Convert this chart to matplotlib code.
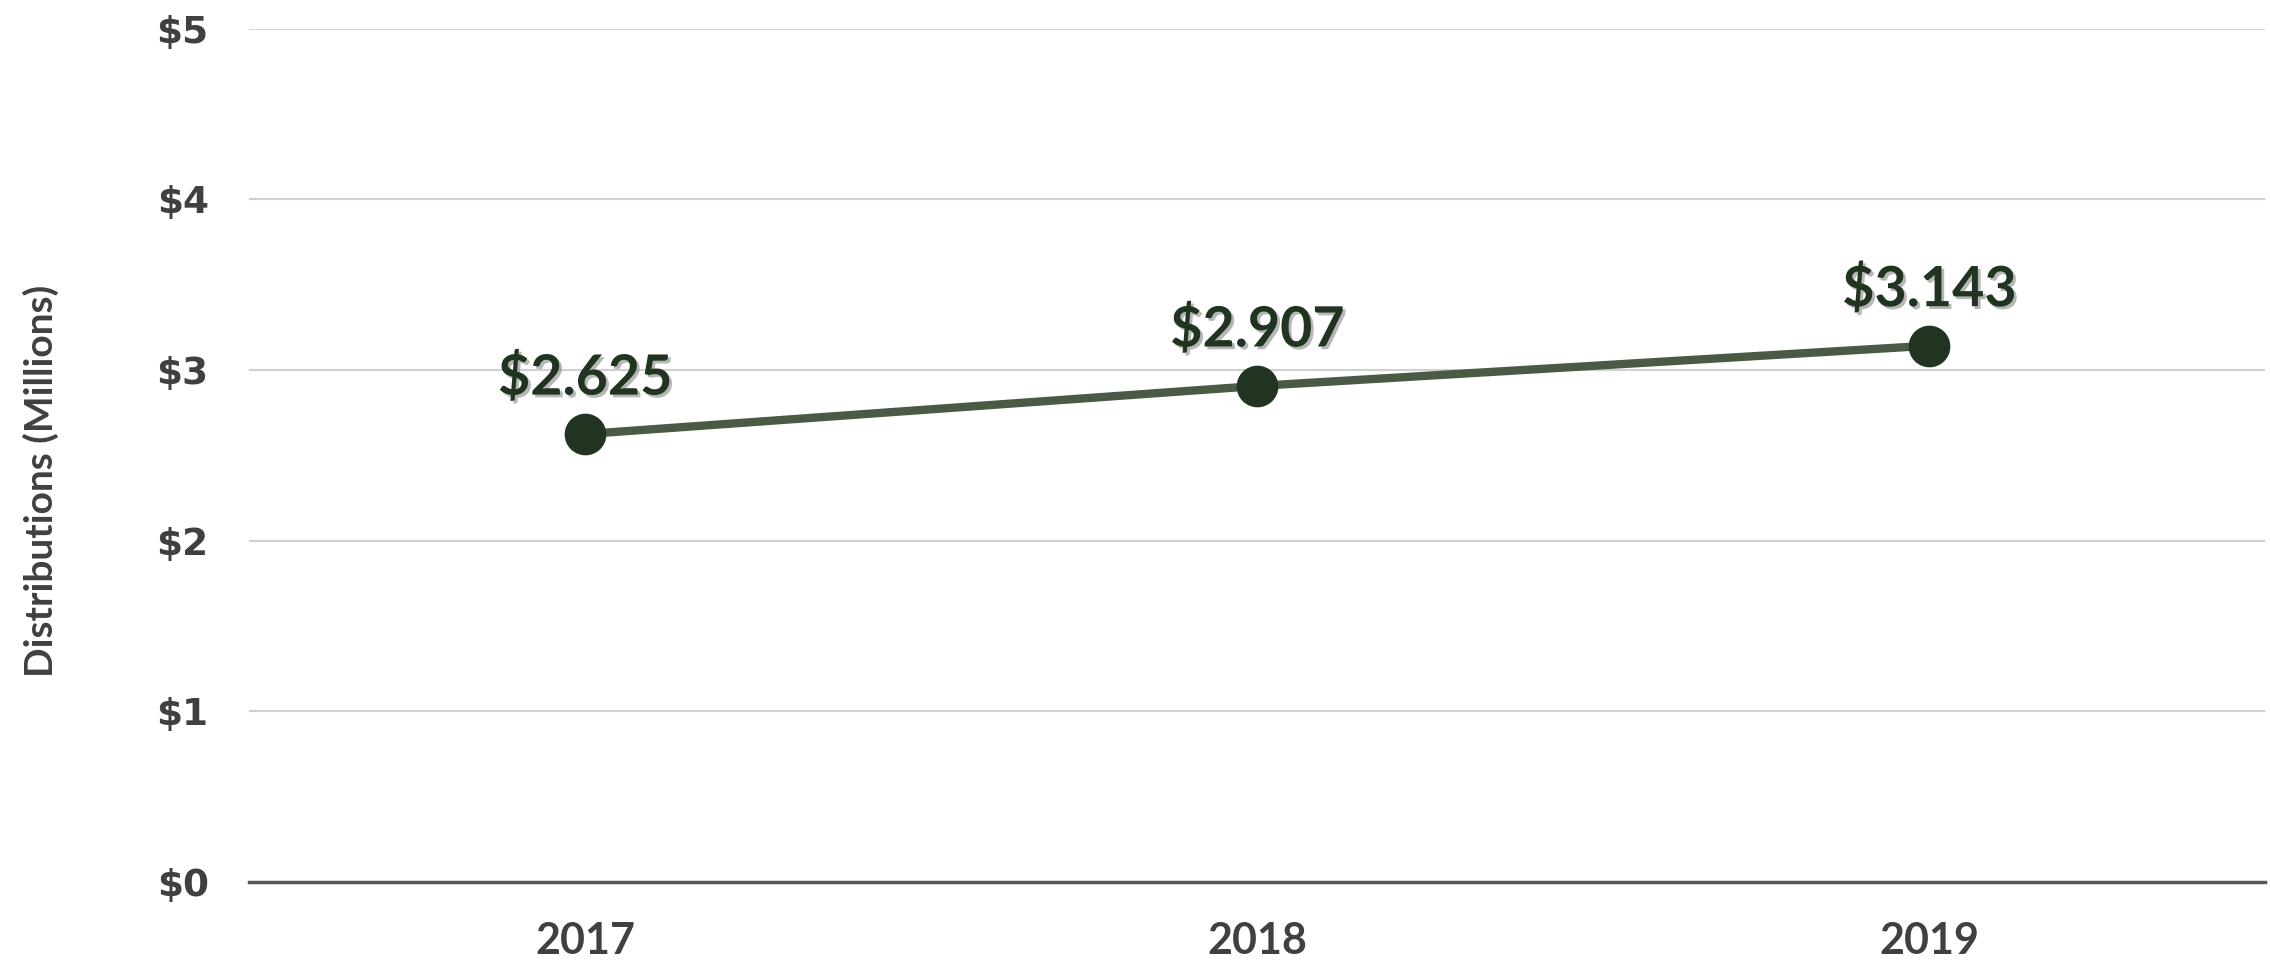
import matplotlib.pyplot as plt
import matplotlib.patheffects as pe

years = ['2017', '2018', '2019']
distributions = [2.625, 2.907, 3.143]
y_ticks = [0, 1, 2, 3, 4, 5]
y_tick_labels = ['$0', '$1', '$2', '$3', '$4', '$5']

fig = plt.figure(figsize=(22.7, 9.63), dpi=100)
ax = fig.add_axes([0.1097, 0.0841, 0.8883, 0.886])

x = range(len(years))
ax.plot(x, distributions, color='#4a5a45', linewidth=6, zorder=3)
ax.plot(x, distributions, 'o', color='#213421', markersize=29, zorder=4)

shadow = [pe.SimplePatchShadow(offset=(2, -2), shadow_rgbFace='#888888', alpha=0.6), pe.Normal()]
for i, v in enumerate(distributions):
    ax.annotate('${:.3f}'.format(v), (i, v), xytext=(0, 41), textcoords='offset points',
                ha='center', va='center', fontsize=40, fontweight='bold', family='Lato',
                color='#203420', path_effects=shadow, zorder=5)

ax.set_xlim(-0.5, 2.5)
ax.set_ylim(0, 5)
ax.set_xticks(list(x))
ax.set_xticklabels(years, fontsize=31, fontweight='bold', family='Lato', color='#404040')
ax.set_yticks(y_ticks)
ax.set_yticklabels(y_tick_labels, fontsize=27, fontweight='bold', family='DejaVu Sans', color='#404040')
ax.tick_params(axis='both', length=0)
ax.tick_params(axis='x', pad=28)
ax.tick_params(axis='y', pad=29)

ax.grid(axis='y', color='#d0d0d0', linewidth=1.5)
ax.set_axisbelow(True)
for s in ['top', 'right', 'left']:
    ax.spines[s].set_visible(False)
ax.spines['bottom'].set_color('#595959')
ax.spines['bottom'].set_linewidth(2.5)

ax.set_ylabel('Distributions (Millions)', fontsize=28, fontweight='bold', family='Lato', color='#404040')
ax.yaxis.set_label_coords(-0.094, 0.47)

fig.savefig('out.png')
